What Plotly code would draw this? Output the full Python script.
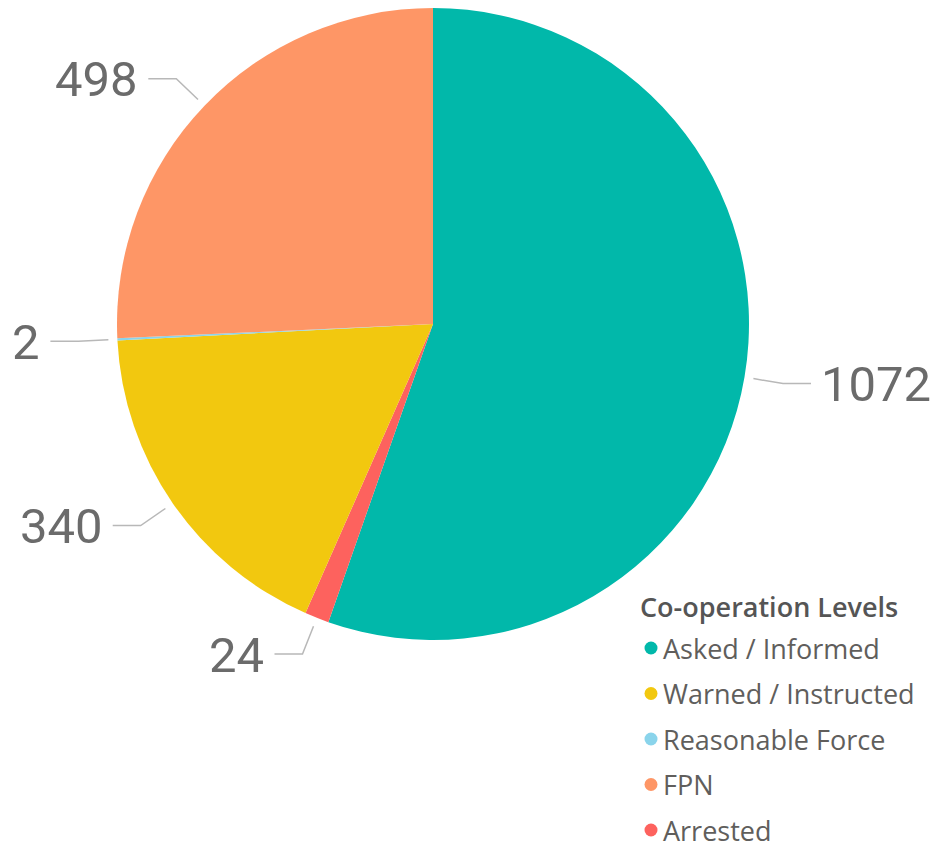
import math
import plotly.graph_objects as go

# slices in clockwise order from 12 o'clock
labels = ["Asked / Informed", "Arrested", "Warned / Instructed", "Reasonable Force", "FPN"]
values = [1072, 24, 340, 2, 498]
colors = ["#01B8AA", "#FD625E", "#F2C80F", "#8AD4EB", "#FE9666"]

legend_title = "Co-operation Levels"
legend_order = ["Asked / Informed", "Warned / Instructed", "Reasonable Force", "FPN", "Arrested"]

# the page body adds an 8px margin, so work in page pixels and shift back
OFF = 8
W, H = 940 - 2 * OFF, 858 - 2 * OFF
R = 316
cx, cy = 433 - OFF, R

fig = go.Figure()

fig.add_trace(go.Pie(
    labels=labels,
    values=values,
    marker=dict(colors=colors, line=dict(width=0)),
    sort=False,
    direction="clockwise",
    rotation=0,
    textinfo="none",
    showlegend=False,
    hovertemplate="%{label}: %{value}<extra></extra>",
    domain=dict(x=[(cx - R) / W, (cx + R) / W], y=[1 - (cy + R) / H, 1]),
))

# data labels with leader lines, placed at each slice's mid angle
total = sum(values)
shapes = []
annotations = []
acc = 0
for lab, val in zip(labels, values):
    mid = (acc + val / 2) / total * 2 * math.pi
    acc += val
    sx, sy = math.sin(mid), -math.cos(mid)
    x0, y0 = cx + (R + 9) * sx, cy + (R + 9) * sy
    x1, y1 = cx + (R + 39) * sx, cy + (R + 39) * sy
    side = 1 if sx >= 0 else -1
    x2 = x1 + side * 28
    shapes.append(dict(
        type="path", xref="x", yref="y",
        path=f"M {x0:.1f},{y0:.1f} L {x1:.1f},{y1:.1f} L {x2:.1f},{y1:.1f}",
        line=dict(color="#B8B8B8", width=1.5),
    ))
    annotations.append(dict(
        x=x2 + side * 8, y=y1 + 1, xref="x", yref="y",
        text=str(val), showarrow=False,
        xanchor="left" if side > 0 else "right", yanchor="middle",
        font=dict(family="Roboto", size=49, color="#6B6B6B"),
    ))

# legend drawn by hand to keep Power BI's item order and spacing
lx, ly, gap = 651 - OFF, 648 - OFF, 45.5
annotations.append(dict(
    x=lx - 13, y=ly - 42, xref="x", yref="y", text=legend_title, showarrow=False,
    xanchor="left", yanchor="middle",
    font=dict(family="Open Sans", size=27, color="#555555", weight=600),
))
leg_colors = [colors[labels.index(n)] for n in legend_order]
leg_y = [ly + i * gap for i in range(len(legend_order))]
fig.add_trace(go.Scatter(
    x=[lx] * len(legend_order), y=leg_y, mode="markers",
    marker=dict(size=13, color=leg_colors),
    hoverinfo="skip", showlegend=False,
))
for name, y in zip(legend_order, leg_y):
    annotations.append(dict(
        x=lx + 10, y=y, xref="x", yref="y", text=name, showarrow=False,
        xanchor="left", yanchor="middle",
        font=dict(family="Open Sans", size=27, color="#605E5C"),
    ))

fig.update_layout(
    width=W, height=H,
    margin=dict(l=0, r=0, t=0, b=0),
    paper_bgcolor="white", plot_bgcolor="rgba(0,0,0,0)",
    xaxis=dict(range=[0, W], visible=False, fixedrange=True, domain=[0, 1]),
    yaxis=dict(range=[H, 0], visible=False, fixedrange=True, domain=[0, 1]),
    shapes=shapes,
    annotations=annotations,
    showlegend=False,
)

fig.write_html("out.html")
